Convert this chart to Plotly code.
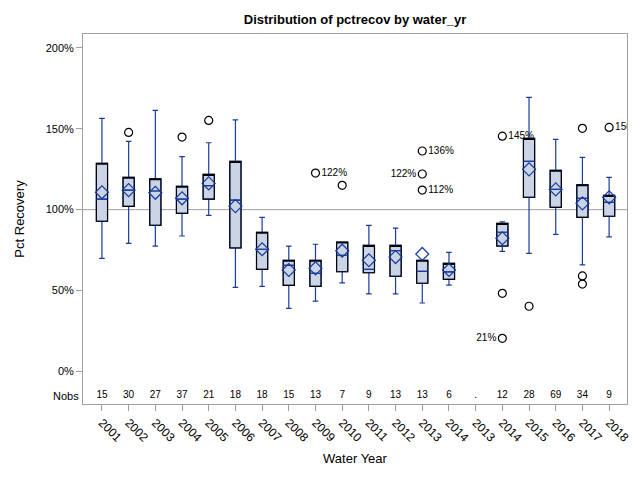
import plotly.graph_objects as go

# ---------------- data ----------------
year_labels = ["2001", "2002", "2003", "2004", "2005", "2006", "2007", "2008", "2009", "2010",
               "2011", "2012", "2013", "2014", "2013", "2014", "2015", "2016", "2017", "2018"]
nobs = ["15", "30", "27", "37", "21", "18", "18", "15", "13", "7",
        "9", "13", "13", "6", ".", "12", "28", "69", "34", "9"]
lower_w = [69.9, 79.2, 77.5, 83.7, 96.5, 52.0, 52.6, 39.0, 43.4, 54.7,
           47.9, 47.9, 42.3, 53.4, None, 74.2, 73.0, 84.7, 65.8, 83.1]
q1 = [92.8, 102.0, 90.3, 97.7, 106.5, 76.3, 63.1, 53.2, 52.6, 61.6,
      61.0, 58.8, 54.5, 56.9, None, 77.5, 107.6, 101.4, 95.2, 95.9]
median = [106.5, 112.1, 111.5, 106.5, 114.8, 105.9, 75.5, 65.6, 60.6, 71.8,
          63.1, 74.6, 61.9, 61.5, None, 86.0, 129.8, 112.5, 107.0, 104.5]
q3 = [128.6, 120.0, 119.1, 114.4, 121.8, 129.8, 86.0, 68.7, 68.7, 80.0,
      77.9, 77.9, 68.7, 66.8, None, 91.5, 144.0, 124.3, 115.4, 108.8]
upper_w = [156.4, 142.2, 161.3, 132.7, 141.3, 155.5, 95.2, 77.5, 78.6, 80.0,
           90.3, 88.6, 68.7, 73.6, None, 92.5, 169.4, 143.4, 132.3, 119.9]
means = [110.7, 112.0, 110.4, 107.0, 116.2, 102.2, 75.5, 62.7, 63.7, 74.6,
         68.7, 70.7, 72.6, 62.7, None, 82.3, 124.9, 112.5, 103.9, 107.6]

# outliers: category index, value, label, label side
out_idx = [1, 3, 4, 8, 9, 12, 12, 12, 15, 15, 15, 16, 18, 18, 18, 19]
out_val = [147.7, 144.8, 155.1, 122.6, 115.0, 136.2, 122.0, 112.1, 145.4, 48.3, 20.5, 40.3,
           150.2, 59.0, 54.0, 150.8]
out_lab = ["", "", "", "122%", "", "136%", "122%", "112%", "145%", "", "21%", "",
           "", "", "", "150%"]
out_pos = ["middle right", "middle right", "middle right", "middle right", "middle right",
           "middle right", "middle left", "middle right", "middle right", "middle right",
           "middle left", "middle right", "middle right", "middle right", "middle right",
           "middle right"]

y_ticks = [0, 50, 100, 150, 200]
y_tick_text = ["0%", "50%", "100%", "150%", "200%"]

# ---------------- styling ----------------
BLUE = "#1A3C9E"
FILL = "#CAD4E4"
FRAME = "#A0A0A0"
FONT = "Liberation Sans, Arial, sans-serif"
NOBS_Y = -15.0

idx = [i for i in range(len(year_labels)) if median[i] is not None]
xs = idx
pick = lambda arr: [arr[i] for i in idx]

fig = go.Figure()

# whiskers + median in blue, filled box
fig.add_trace(go.Box(
    x=xs, q1=pick(q1), median=pick(median), q3=pick(q3),
    lowerfence=pick(lower_w), upperfence=pick(upper_w),
    width=0.42, whiskerwidth=0.5,
    fillcolor=FILL, line=dict(color=BLUE, width=1.2),
    boxpoints=False, hoverinfo="skip", showlegend=False,
))
# black box outline on top
fig.add_trace(go.Box(
    x=xs, q1=pick(q1), median=pick(q3), q3=pick(q3),
    lowerfence=pick(q1), upperfence=pick(q3),
    width=0.42, whiskerwidth=0,
    fillcolor="rgba(0,0,0,0)", line=dict(color="black", width=1.1),
    boxpoints=False, hoverinfo="skip", showlegend=False,
))
# redraw medians (blue) over black outline where needed
fig.add_trace(go.Box(
    x=xs, q1=pick(median), median=pick(median), q3=pick(median),
    lowerfence=pick(median), upperfence=pick(median),
    width=0.42, whiskerwidth=0,
    fillcolor="rgba(0,0,0,0)", line=dict(color=BLUE, width=1.2),
    boxpoints=False, hoverinfo="skip", showlegend=False,
))

# means
fig.add_trace(go.Scatter(
    x=xs, y=pick(means), mode="markers",
    marker=dict(symbol="diamond-open", size=10, color=BLUE, line=dict(width=1.2, color=BLUE)),
    showlegend=False, hoverinfo="skip",
))

# outliers
fig.add_trace(go.Scatter(
    x=out_idx, y=out_val, mode="markers+text", text=out_lab, textposition=out_pos,
    textfont=dict(family=FONT, size=10, color="black"),
    marker=dict(symbol="circle-open", size=8, color="black", line=dict(width=1.2, color="black")),
    cliponaxis=True, showlegend=False, hoverinfo="skip",
))

# Nobs row
fig.add_trace(go.Scatter(
    x=list(range(len(nobs))), y=[NOBS_Y] * len(nobs), mode="text", text=nobs,
    textfont=dict(family=FONT, size=10, color="black"),
    showlegend=False, hoverinfo="skip",
))

fig.add_hline(y=100, line=dict(color=FRAME, width=1), layer="below")

fig.add_annotation(x=-0.004, xref="paper", y=NOBS_Y, yref="y", text="Nobs",
                   showarrow=False, xanchor="right", yanchor="middle",
                   font=dict(family=FONT, size=11, color="black"))

# the page body has an 8px margin, so the figure is sized/shifted to fit the 640x480 window
W, H = 624, 464
L, R, T, B = 75, 5, 26, 68

fig.update_layout(
    width=W, height=H,
    margin=dict(l=L, r=R, t=T, b=B, autoexpand=False),
    paper_bgcolor="white", plot_bgcolor="white",
    boxmode="overlay",
    font=dict(family=FONT, size=11, color="black"),
    title=dict(text="<b>Distribution of pctrecov by water_yr</b>",
               x=0.5, xref="paper", xanchor="center",
               y=1 - 11 / H, yref="container", yanchor="middle",
               font=dict(family=FONT, size=13, color="black")),
    xaxis=dict(range=[-0.71, 19.67], tickmode="array", automargin=False,
               tickvals=list(range(len(year_labels))), ticktext=year_labels,
               tickangle=45, ticks="outside", ticklen=6, tickcolor=FRAME,
               showline=True, linecolor=FRAME, linewidth=1, mirror=True,
               showgrid=False, zeroline=False,
               tickfont=dict(family=FONT, size=12, color="black"),
               title=dict(text="Water Year", font=dict(family=FONT, size=13, color="black"),
                          standoff=10)),
    yaxis=dict(range=[-20.1, 208.5], tickmode="array", tickvals=y_ticks, ticktext=y_tick_text,
               automargin=False,
               ticks="outside", ticklen=6, tickcolor=FRAME,
               showline=True, linecolor=FRAME, linewidth=1, mirror=True,
               showgrid=False, zeroline=False,
               tickfont=dict(family=FONT, size=11, color="black"),
               title=dict(text="Pct Recovery", font=dict(family=FONT, size=13, color="black"),
                          standoff=18)),
)

fig.write_html("out.html")
